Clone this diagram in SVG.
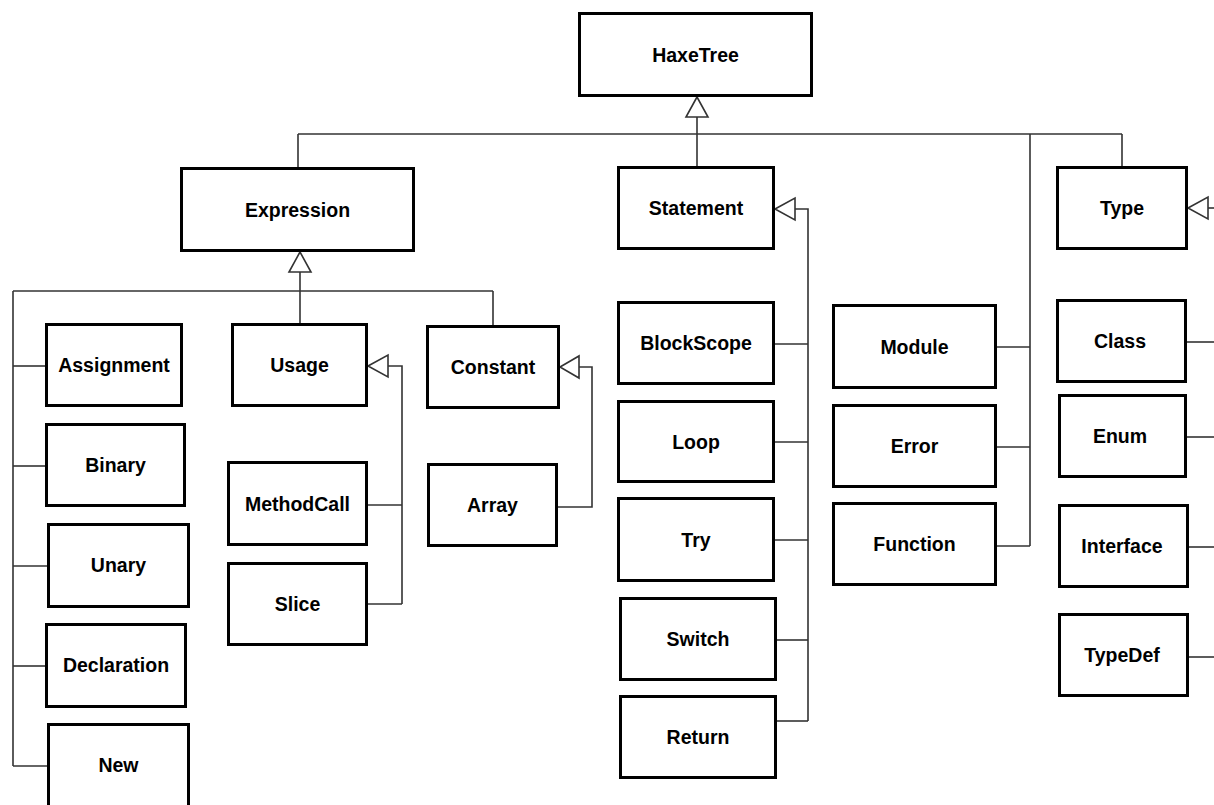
<svg xmlns="http://www.w3.org/2000/svg" width="1214" height="805" viewBox="0 0 1214 805">
<style>
.box rect{fill:#fff;stroke:#000;stroke-width:3}
.box text{font-family:"Liberation Sans",Arial,sans-serif;font-weight:bold;font-size:19.5px;fill:#000;text-anchor:middle}
.conn line,.conn polyline{stroke:#333;stroke-width:1.6;fill:none}
.conn polygon{fill:#fff;stroke:#333;stroke-width:1.6}
</style>
<rect width="1214" height="805" fill="#fff"/>
<g class="conn" id="connectors">
<!-- HaxeTree -->
<line x1="697" y1="117" x2="697" y2="166"/>
<line x1="298" y1="134" x2="1122" y2="134"/>
<line x1="298" y1="134" x2="298" y2="168"/>
<line x1="1122" y1="134" x2="1122" y2="166"/>
<line x1="1030" y1="134" x2="1030" y2="546"/>
<line x1="997" y1="347" x2="1030" y2="347"/>
<line x1="997" y1="447" x2="1030" y2="447"/>
<line x1="997" y1="546" x2="1030" y2="546"/>
<polygon points="697,97 686,117 708,117"/>
<!-- Expression -->
<line x1="300" y1="272" x2="300" y2="323"/>
<line x1="13" y1="291" x2="493" y2="291"/>
<line x1="493" y1="291" x2="493" y2="325"/>
<line x1="13" y1="291" x2="13" y2="766"/>
<line x1="13" y1="366" x2="45" y2="366"/>
<line x1="13" y1="466" x2="45" y2="466"/>
<line x1="13" y1="566" x2="47" y2="566"/>
<line x1="13" y1="666" x2="45" y2="666"/>
<line x1="13" y1="766" x2="47" y2="766"/>
<polygon points="300,252 289,272 311,272"/>
<!-- Usage -->
<polyline points="388,366 402,366 402,604"/>
<line x1="368" y1="505" x2="402" y2="505"/>
<line x1="368" y1="604" x2="402" y2="604"/>
<polygon points="368,366 388,355 388,377"/>
<!-- Constant -->
<polyline points="579,367 592,367 592,507 558,507"/>
<polygon points="560,367 579,356 579,378"/>
<!-- Statement -->
<polyline points="795,209 808,209 808,721"/>
<line x1="775" y1="344" x2="808" y2="344"/>
<line x1="775" y1="442" x2="808" y2="442"/>
<line x1="775" y1="540" x2="808" y2="540"/>
<line x1="777" y1="640" x2="808" y2="640"/>
<line x1="777" y1="721" x2="808" y2="721"/>
<polygon points="775,209 795,198 795,220"/>
<!-- Type -->
<line x1="1208" y1="208" x2="1214" y2="208"/>
<line x1="1187" y1="342" x2="1214" y2="342"/>
<line x1="1187" y1="437" x2="1214" y2="437"/>
<line x1="1189" y1="547" x2="1214" y2="547"/>
<line x1="1189" y1="657" x2="1214" y2="657"/>
<polygon points="1188,208 1208,197 1208,219"/>
</g>
<g class="box" id="HaxeTree"><rect x="579.5" y="13.5" width="232" height="82"/><text x="695.5" y="61.5">HaxeTree</text></g>
<g class="box" id="Expression"><rect x="181.5" y="168.5" width="232" height="82"/><text x="297.5" y="216.5">Expression</text></g>
<g class="box" id="Statement"><rect x="618.5" y="167.5" width="155" height="81"/><text x="696" y="215">Statement</text></g>
<g class="box" id="Type"><rect x="1057.5" y="167.5" width="129" height="81"/><text x="1122" y="215">Type</text></g>
<g class="box" id="Assignment"><rect x="46.5" y="324.5" width="135" height="81"/><text x="114" y="372">Assignment</text></g>
<g class="box" id="Binary"><rect x="46.5" y="424.5" width="138" height="81"/><text x="115.5" y="472">Binary</text></g>
<g class="box" id="Unary"><rect x="48.5" y="524.5" width="140" height="82"/><text x="118.5" y="572">Unary</text></g>
<g class="box" id="Declaration"><rect x="46.5" y="624.5" width="139" height="82"/><text x="116" y="672">Declaration</text></g>
<g class="box" id="New"><rect x="48.5" y="724.5" width="140" height="84"/><text x="118.5" y="772">New</text></g>
<g class="box" id="Usage"><rect x="232.5" y="324.5" width="134" height="81"/><text x="299.5" y="372">Usage</text></g>
<g class="box" id="MethodCall"><rect x="228.5" y="462.5" width="138" height="82"/><text x="297.5" y="510.5">MethodCall</text></g>
<g class="box" id="Slice"><rect x="228.5" y="563.5" width="138" height="81"/><text x="297.5" y="611">Slice</text></g>
<g class="box" id="Constant"><rect x="427.5" y="326.5" width="131" height="81"/><text x="493" y="374">Constant</text></g>
<g class="box" id="Array"><rect x="428.5" y="464.5" width="128" height="81"/><text x="492.5" y="512">Array</text></g>
<g class="box" id="BlockScope"><rect x="618.5" y="302.5" width="155" height="81"/><text x="696" y="350">BlockScope</text></g>
<g class="box" id="Loop"><rect x="618.5" y="401.5" width="155" height="80"/><text x="696" y="448.5">Loop</text></g>
<g class="box" id="Try"><rect x="618.5" y="498.5" width="155" height="82"/><text x="696" y="547">Try</text></g>
<g class="box" id="Switch"><rect x="620.5" y="598.5" width="155" height="81"/><text x="698" y="646">Switch</text></g>
<g class="box" id="Return"><rect x="620.5" y="696.5" width="155" height="81"/><text x="698" y="744">Return</text></g>
<g class="box" id="Module"><rect x="833.5" y="305.5" width="162" height="82"/><text x="914.5" y="353.5">Module</text></g>
<g class="box" id="Error"><rect x="833.5" y="405.5" width="162" height="81"/><text x="914.5" y="453">Error</text></g>
<g class="box" id="Function"><rect x="833.5" y="503.5" width="162" height="81"/><text x="914.5" y="551">Function</text></g>
<g class="box" id="Class"><rect x="1057.5" y="300.5" width="128" height="81"/><text x="1120" y="348">Class</text></g>
<g class="box" id="Enum"><rect x="1059.5" y="395.5" width="126" height="81"/><text x="1120" y="443">Enum</text></g>
<g class="box" id="Interface"><rect x="1059.5" y="505.5" width="128" height="81"/><text x="1122" y="553">Interface</text></g>
<g class="box" id="TypeDef"><rect x="1059.5" y="614.5" width="128" height="81"/><text x="1122" y="662">TypeDef</text></g>
</svg>
